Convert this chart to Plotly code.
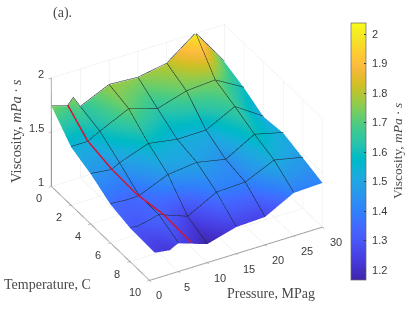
import plotly.graph_objects as go

temperature = [0, 2, 4, 6, 8, 10]
pressure_cols = [5, 10, 15, 20, 25, 30]
# left-hand columns: pressure varies with temperature
p_left = [0, 0, 0, 0, 0, 0.9]
z_left = [1.74, 1.535, 1.46, 1.355, 1.31, 1.24]
p_kink = [2.8, 2.86, 3.6, 3.0, 1.2, 3.5]
z_kink = [1.694, 1.535, 1.437, 1.343, 1.298, 1.22]
p_bump = [3.8, 3.9, 4.3, 4.0, 3.1, 4.2]
z_bump = [1.753, 1.565, 1.457, 1.345, 1.32, 1.24]
z_p5 = [1.65, 1.595, 1.477, 1.348, 1.346, 1.26]
z_p10 = [1.771, 1.72, 1.573, 1.46, 1.248, 1.17]
z_p15 = [1.755, 1.639, 1.529, 1.49, 1.389, 1.245]
z_p20 = [1.803, 1.72, 1.533, 1.436, 1.40, 1.256]
z_p25 = [2.0, 1.74, 1.668, 1.585, 1.521, 1.396]
z_p30 = [1.657, 1.59, 1.496, 1.52, 1.465, 1.407]
red_t = [0, 2, 4, 6, 8, 10]
red_p = [2.8, 2.86, 3.6, 4.7, 5.7, 7.15]
red_z = [1.694, 1.535, 1.437, 1.353, 1.335, 1.226]
ticks_t = [0, 2, 4, 6, 8, 10]
ticks_p = [0, 5, 10, 15, 20, 25, 30]
ticks_z = [1, 1.5, 2]
ticks_cb = [1.2, 1.3, 1.4, 1.5, 1.6, 1.7, 1.8, 1.9, 2]
parula = [(0.2422,0.1504,0.6603),(0.2504,0.1650,0.7076),(0.2578,0.1818,0.7511),(0.2647,0.1978,0.7952),
          (0.2706,0.2147,0.8364),(0.2751,0.2342,0.8710),(0.2783,0.2559,0.8991),(0.2803,0.2782,0.9221),
          (0.2813,0.3006,0.9414),(0.2810,0.3228,0.9579),(0.2795,0.3447,0.9717),(0.2760,0.3667,0.9829),
          (0.2699,0.3892,0.9906),(0.2602,0.4123,0.9952),(0.2440,0.4358,0.9988),(0.2206,0.4603,0.9973),
          (0.1963,0.4847,0.9892),(0.1834,0.5074,0.9798),(0.1786,0.5289,0.9682),(0.1764,0.5499,0.9520),
          (0.1687,0.5703,0.9359),(0.1540,0.5902,0.9218),(0.1460,0.6091,0.9079),(0.1380,0.6276,0.8973),
          (0.1248,0.6459,0.8883),(0.1113,0.6635,0.8763),(0.0952,0.6798,0.8598),(0.0689,0.6948,0.8394),
          (0.0297,0.7082,0.8163),(0.0036,0.7203,0.7917),(0.0067,0.7312,0.7660),(0.0433,0.7411,0.7394),
          (0.0964,0.7500,0.7120),(0.1408,0.7584,0.6842),(0.1717,0.7670,0.6554),(0.1938,0.7758,0.6251),
          (0.2161,0.7843,0.5923),(0.2470,0.7918,0.5567),(0.2906,0.7973,0.5188),(0.3406,0.8008,0.4789),
          (0.3909,0.8029,0.4354),(0.4456,0.8024,0.3909),(0.5044,0.7993,0.3480),(0.5616,0.7942,0.3045),
          (0.6174,0.7876,0.2612),(0.6720,0.7793,0.2227),(0.7242,0.7698,0.1910),(0.7738,0.7598,0.1646),
          (0.8203,0.7498,0.1535),(0.8634,0.7406,0.1596),(0.9035,0.7330,0.1774),(0.9393,0.7288,0.2100),
          (0.9728,0.7298,0.2394),(0.9956,0.7434,0.2371),(0.9970,0.7659,0.2199),(0.9952,0.7893,0.2028),
          (0.9892,0.8136,0.1885),(0.9786,0.8386,0.1766),(0.9676,0.8639,0.1643),(0.9610,0.8890,0.1537),
          (0.9597,0.9135,0.1423),(0.9628,0.9373,0.1265),(0.9691,0.9606,0.1064),(0.9769,0.9839,0.0805)]

z_cols = [z_left, z_kink, z_bump, z_p5, z_p10, z_p15, z_p20, z_p25, z_p30]
p_cols = [p_left, p_kink, p_bump] + [[p] * 6 for p in pressure_cols]
n = len(temperature)
X = [[temperature[i]] * len(z_cols) for i in range(n)]
Y = [[c[i] for c in p_cols] for i in range(n)]
Z = [[c[i] for c in z_cols] for i in range(n)]
scale = [[i / (len(parula) - 1), "rgb(%d,%d,%d)" % tuple(round(v * 255) for v in c)] for i, c in enumerate(parula)]
LIFT = 0.006
TICK_FONT = dict(family="Liberation Sans", size=11, color="#3a3a3a")

fig = go.Figure()
fig.add_trace(go.Surface(
    x=X, y=Y, z=Z, surfacecolor=Z, colorscale=scale, cmin=1.166, cmax=2.037,
    lighting=dict(ambient=1, diffuse=0, specular=0, fresnel=0, roughness=1),
    hoverinfo="skip",
    colorbar=dict(
        x=350.7 / 420, xanchor="left", xpad=0, y=1 - 151.6 / 315, yanchor="middle", ypad=0,
        len=256.7 / 315, thickness=15, tickvals=ticks_cb,
        ticktext=["\u00a0" + s for s in ["1.2", "1.3", "1.4", "1.5", "1.6", "1.7", "1.8", "1.9", "2"]],
        ticks="inside", ticklen=2, tickcolor="#333333", outlinecolor="#666666", outlinewidth=0.7,
        tickfont=TICK_FONT,
    ),
))
# mesh rows
for i in range(n - 1):
    fig.add_trace(go.Scatter3d(x=X[i], y=Y[i], z=[v + LIFT for v in Z[i]], mode="lines",
                               line=dict(color="#1a2a30", width=1.1), hoverinfo="skip", showlegend=False))
# mesh columns at P = 5 ... 25
for j in range(3, 8):
    fig.add_trace(go.Scatter3d(x=temperature, y=p_cols[j], z=[v + LIFT for v in z_cols[j]], mode="lines",
                               line=dict(color="#1a2a30", width=1.1), hoverinfo="skip", showlegend=False))
fig.add_trace(go.Scatter3d(x=red_t, y=red_p, z=[v + LIFT * 2 for v in red_z], mode="lines",
                           line=dict(color="#d5142c", width=3), hoverinfo="skip", showlegend=False))

scene_labels = []
for t in ticks_t:
    scene_labels.append(dict(x=t, y=0, z=1, text=str(t), xshift=-15 if t == 10 else -12.5, yshift=-12))
for p in ticks_p:
    scene_labels.append(dict(x=10, y=p, z=1, text=str(p), xshift=9 if p < 10 else 13, yshift=-15))
for v in ticks_z:
    scene_labels.append(dict(x=0, y=0, z=v, text=str(v), xshift=-15 if v == 1.5 else -10, yshift=4))
for s in scene_labels:
    s.update(showarrow=False, xanchor="center", yanchor="middle", font=TICK_FONT)

ax = dict(showbackground=False, gridcolor="#e8e8e8", gridwidth=1, showline=True, linecolor="#8a8a8a", linewidth=2,
          ticks="inside", ticklen=3, tickcolor="#8a8a8a", zeroline=False, title=dict(text=""), showticklabels=False,
          showspikes=False)
R = 1.5
K = 270 / 207
fig.update_layout(
    width=420, height=315, margin=dict(l=0, r=0, t=0, b=0), paper_bgcolor="white", showlegend=False,
    scene=dict(
        domain=dict(x=[0, 374 / 420], y=[10 / 315, 1]),
        aspectmode="manual", aspectratio=dict(x=K, y=K, z=0.65 * K),
        camera=dict(projection=dict(type="orthographic"), eye=dict(x=R * 0.870 * 0.84, y=-R * 0.4935 * 0.84, z=R * 0.5437),
                    up=dict(x=0, y=0, z=1), center=dict(x=0, y=0, z=0)),
        xaxis=dict(ax, range=[0, 10], tickvals=ticks_t),
        yaxis=dict(ax, range=[0, 30], tickvals=ticks_p),
        zaxis=dict(ax, range=[1, 2], tickvals=ticks_z),
        annotations=scene_labels,
    ),
    annotations=[
        dict(text="(a).", x=62, y=13, showarrow=False, font=dict(size=14)),
        dict(text="Viscosity, <i>mPa · s</i>", x=16, y=131, textangle=-90, showarrow=False, font=dict(size=14.5)),
        dict(text="Temperature, C", x=47, y=284, showarrow=False, font=dict(size=14)),
        dict(text="Pressure, MPag", x=271, y=293, showarrow=False, font=dict(size=14)),
        dict(text="Viscosity, <i>mPa · s</i>", x=397, y=151, textangle=-90, showarrow=False, font=dict(size=13.5)),
    ],
)
for a in fig.layout.annotations:
    a.update(xref="paper", yref="paper", x=a.x / 420, y=1 - a.y / 315, xanchor="center", yanchor="middle",
             font=dict(family="Liberation Serif", size=a.font.size, color="#4a4a4a"))
fig.write_html("out.html", post_script="document.body.style.margin='0';", config={"displayModeBar": False})
